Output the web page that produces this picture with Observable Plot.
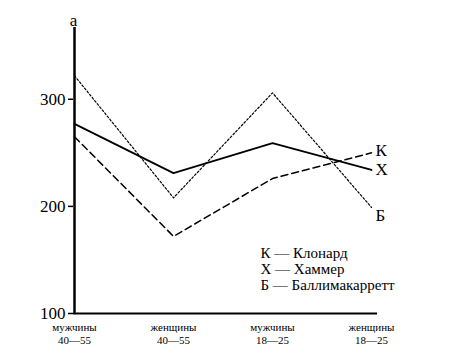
<!DOCTYPE html>
<html><head><meta charset="utf-8">
<script src="https://cdn.jsdelivr.net/npm/d3@7"></script>
<script src="https://cdn.jsdelivr.net/npm/@observablehq/plot@0.6"></script>
<style>body{margin:0;background:#fff;}</style>
</head><body><div id="chart"></div>
<script>
const categories = ["мужчины\n40—55", "женщины\n40—55", "мужчины\n18—25", "женщины\n18—25"];
const klonard = [265, 172, 226, 250];
const hammer = [277, 231, 259, 234];
const ballymacarrett = [322, 208, 306, 199];
const seriesKeys = ["К", "Х", "Б"];
const seriesValues = [klonard, hammer, ballymacarrett];
const dashes = ["7,4", null, "2,2"];
const widths = [1.5, 1.8, 1.2];
const yTicks = [100, 200, 300];
const legendText = "К — Клонард\nХ — Хаммер\nБ — Баллимакарретт";
const yLabel = "а";
const FF = "'Liberation Serif', 'Times New Roman', serif";

const marks = [];
seriesValues.forEach((vals, i) => {
  const data = categories.map((c, j) => ({cat: c, v: vals[j]}));
  marks.push(Plot.line(data, {x: "cat", y: "v", stroke: "#000", strokeWidth: widths[i], strokeDasharray: dashes[i]}));
  marks.push(Plot.text([data[data.length - 1]], {x: "cat", y: "v", text: () => seriesKeys[i], textAnchor: "start", dx: 4, dy: i === 2 ? 8 : (i === 0 ? -2 : 0), fontSize: 17, fontFamily: FF, fill: "#000"}));
});

const chart = Plot.plot({
  width: 455, height: 362,
  marginLeft: 73, marginRight: 78, marginTop: 27, marginBottom: 49,
  style: {fontFamily: FF, background: "#fff"},
  x: {type: "point", domain: categories, padding: 0, insetRight: 5},
  y: {domain: [100, 367]},
  marks: [
    Plot.axisY({ticks: yTicks, tickSize: 5, tickPadding: 3, fontSize: 17, fontFamily: FF, label: null, strokeWidth: 1.5}),
    Plot.axisX({tickSize: 0, tickPadding: 9, fontSize: 11, fontFamily: FF, lineHeight: 1.15, label: null}),
    Plot.ruleX([categories[0]], {y1: 100, y2: 367, stroke: "#000", strokeWidth: 2.5}),
    Plot.ruleY([100], {stroke: "#000", strokeWidth: 2.2}),
    ...marks,
    Plot.text([yLabel], {frameAnchor: "top-left", textAnchor: "middle", dy: -14, fontSize: 17, fontFamily: FF, fill: "#000"}),
    Plot.text([legendText], {frameAnchor: "top-left", textAnchor: "start", lineAnchor: "top", dx: 187, dy: 219, fontSize: 15, fontFamily: FF, lineHeight: 1.07, fill: "#000"})
  ]
});
document.getElementById("chart").appendChild(chart);
</script></body></html>
